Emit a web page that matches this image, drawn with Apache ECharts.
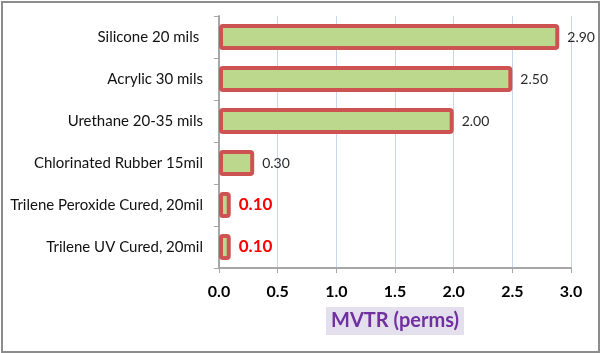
<!DOCTYPE html>
<html>
<head>
<meta charset="utf-8">
<script src="https://cdn.jsdelivr.net/npm/echarts@6/dist/echarts.min.js"></script>
<style>
html,body{margin:0;padding:0;background:#fff;}
#frame{position:absolute;left:1px;top:1px;width:595px;height:348px;border:2px solid #8c8c8c;box-sizing:content-box;}
#chart{position:absolute;left:0;top:0;width:600px;height:353px;}
</style>
</head>
<body>
<div id="frame"></div>
<div id="chart"></div>
<script>
const categories = [
  "Silicone 20 mils ",
  "Acrylic 30 mils",
  "Urethane 20-35 mils",
  "Chlorinated Rubber 15mil",
  "Trilene Peroxide Cured, 20mil",
  "Trilene UV Cured, 20mil"
];
const mvtrValues = [2.90, 2.50, 2.00, 0.30, 0.10, 0.10];
const highlighted = [false, false, false, false, true, true];
const xTicks = { min: 0, max: 3, interval: 0.5 };
const axisTitle = "MVTR (perms)";

const FONT = "Lato, 'Open Sans', sans-serif";

const chart = echarts.init(document.getElementById('chart'), null, {renderer: 'canvas'});

const seriesData = mvtrValues.map((v, i) => {
  const item = { value: v };
  if (highlighted[i]) {
    item.label = { color: '#ff0000', fontWeight: 'bold', fontSize: 17, distance: 8 };
  }
  return item;
});

chart.setOption({
  animation: false,
  grid: { left: 219, right: 29, top: 16, bottom: 85, containLabel: false },
  xAxis: {
    type: 'value',
    min: xTicks.min, max: xTicks.max, interval: xTicks.interval,
    axisLine: { show: true, lineStyle: { color: '#a6a6a6', width: 2 } },
    axisTick: { show: true, length: 5, lineStyle: { color: '#a6a6a6', width: 1 } },
    splitLine: { show: true, lineStyle: { color: '#c9d7ea', width: 1 } },
    axisLabel: {
      margin: 16, color: '#000', fontWeight: 'bold', fontSize: 16, fontFamily: FONT,
      formatter: v => v.toFixed(1)
    },
    name: axisTitle,
    nameLocation: 'middle',
    nameGap: 39,
    nameTextStyle: {
      color: '#7030a0', fontWeight: 'bold', fontSize: 20, fontFamily: FONT,
      backgroundColor: '#e4dfec', padding: [4, 5, 4, 5]
    }
  },
  yAxis: {
    type: 'category',
    data: categories,
    inverse: true,
    axisLine: { show: true, lineStyle: { color: '#a6a6a6', width: 2 } },
    axisTick: { show: true, length: 5, alignWithLabel: false, lineStyle: { color: '#a6a6a6', width: 1 } },
    splitLine: { show: false },
    axisLabel: { margin: 16, color: '#111', fontSize: 15, fontFamily: FONT }
  },
  series: [{
    type: 'bar',
    data: seriesData,
    barWidth: 26,
    itemStyle: {
      color: '#bcd88d',
      borderColor: '#cd5352',
      borderWidth: 4,
      borderRadius: 2
    },
    label: {
      show: true,
      position: 'right',
      distance: 8,
      color: '#2a2a2a',
      fontSize: 14,
      fontFamily: FONT,
      formatter: p => p.value.toFixed(2)
    }
  }]
});
</script>
</body>
</html>
